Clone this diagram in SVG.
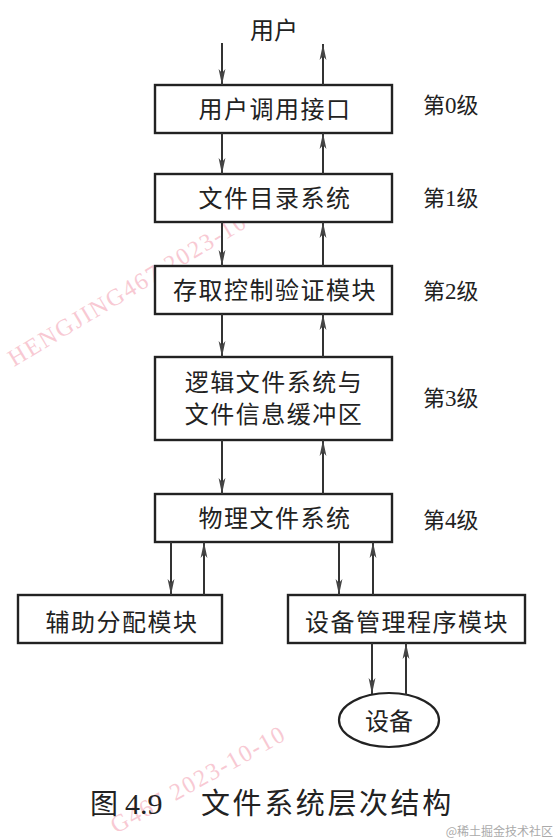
<svg xmlns="http://www.w3.org/2000/svg" width="560" height="840" viewBox="0 0 560 840">
<style>
.box{fill:#fff;stroke:#222;stroke-width:2.4}
.t{font-family:"Noto Sans CJK SC","Noto Sans",sans-serif;font-size:24px;fill:#222;text-anchor:middle;letter-spacing:1.5px}
.lv{font-family:"Noto Sans CJK SC","Noto Sans",sans-serif;font-size:22px;fill:#222}
.num{font-family:"Liberation Serif",serif;font-size:23px}
.ln{stroke:#333;stroke-width:2;fill:none;marker-end:url(#ah)}
.wm{font-family:"Liberation Serif",serif;font-size:24px;fill:#f08aa0;opacity:0.45}
</style>
<defs>
<marker id="ah" viewBox="0 0 16 8" refX="16" refY="4" markerWidth="16" markerHeight="8" markerUnits="userSpaceOnUse" orient="auto">
<path d="M0,0.6 L16,4 L0,7.4 L4,4 Z" fill="#444"/>
</marker>
</defs>
<rect width="560" height="840" fill="#fff"/>
<text class="wm" x="14" y="367" transform="rotate(-31 14 367)" textLength="310">HENGJING467 2023-10-10</text>
<text class="wm" x="116" y="834" transform="rotate(-29 116 834)" textLength="195">G467 2023-10-10</text>
<text id="user" class="t" x="274" y="39" style="letter-spacing:0">用户</text>
<g id="n0"><rect class="box" x="155" y="85" width="237" height="48"/><text class="t" x="275" y="118">用户调用接口</text></g>
<g id="n1"><rect class="box" x="155" y="174" width="237" height="48"/><text class="t" x="275" y="207">文件目录系统</text></g>
<g id="n2"><rect class="box" x="155" y="266" width="237" height="48"/><text class="t" x="275" y="299">存取控制验证模块</text></g>
<g id="n3"><rect class="box" x="155" y="357" width="237" height="83"/><text class="t" x="274" y="391">逻辑文件系统与</text><text class="t" x="274" y="423">文件信息缓冲区</text></g>
<g id="n4"><rect class="box" x="155" y="494" width="237" height="48"/><text class="t" x="275" y="527">物理文件系统</text></g>
<g id="n5"><rect class="box" x="18" y="595" width="204" height="48"/><text class="t" x="122" y="631">辅助分配模块</text></g>
<g id="n6"><rect class="box" x="288" y="595" width="237" height="48"/><text class="t" x="407" y="631">设备管理程序模块</text></g>
<g id="n7"><ellipse cx="389" cy="720" rx="50" ry="27" fill="#fff" stroke="#222" stroke-width="2.2"/><text class="t" x="389" y="730" style="letter-spacing:0">设备</text></g>
<g id="levels">
<text class="lv" x="423" y="113">第<tspan class="num">0</tspan>级</text>
<text class="lv" x="423" y="206">第<tspan class="num">1</tspan>级</text>
<text class="lv" x="423" y="299">第<tspan class="num">2</tspan>级</text>
<text class="lv" x="423" y="406">第<tspan class="num">3</tspan>级</text>
<text class="lv" x="423" y="528">第<tspan class="num">4</tspan>级</text>
</g>
<g id="connectors">
<line class="ln" x1="222" y1="43" x2="222" y2="85"/>
<line class="ln" x1="323" y1="85" x2="323" y2="44"/>
<line class="ln" x1="222" y1="133" x2="222" y2="174"/>
<line class="ln" x1="323" y1="174" x2="323" y2="133"/>
<line class="ln" x1="222" y1="222" x2="222" y2="266"/>
<line class="ln" x1="323" y1="266" x2="323" y2="222"/>
<line class="ln" x1="222" y1="314" x2="222" y2="357"/>
<line class="ln" x1="323" y1="357" x2="323" y2="314"/>
<line class="ln" x1="222" y1="440" x2="222" y2="494"/>
<line class="ln" x1="323" y1="494" x2="323" y2="440"/>
<line class="ln" x1="171" y1="542" x2="171" y2="595"/>
<line class="ln" x1="204" y1="595" x2="204" y2="542"/>
<line class="ln" x1="339" y1="542" x2="339" y2="595"/>
<line class="ln" x1="373" y1="595" x2="373" y2="542"/>
<line class="ln" x1="372" y1="643" x2="372" y2="694"/>
<line class="ln" x1="406" y1="695" x2="406" y2="643"/>
</g>
<g id="caption">
<text x="90" y="814" style="font-family:'Noto Sans CJK SC',sans-serif;font-size:28px;fill:#222">图</text>
<text x="125" y="814" style="font-family:'Liberation Serif',serif;font-size:30px;fill:#222">4.9</text>
<text x="201" y="814" style="font-family:'Noto Sans CJK SC',sans-serif;font-size:29px;fill:#222;letter-spacing:2.6px">文件系统层次结构</text>
</g>
<text x="553" y="836" style="font-family:'Noto Sans CJK SC',sans-serif;font-size:12px;fill:#aaa;text-anchor:end">@稀土掘金技术社区</text>
</svg>
